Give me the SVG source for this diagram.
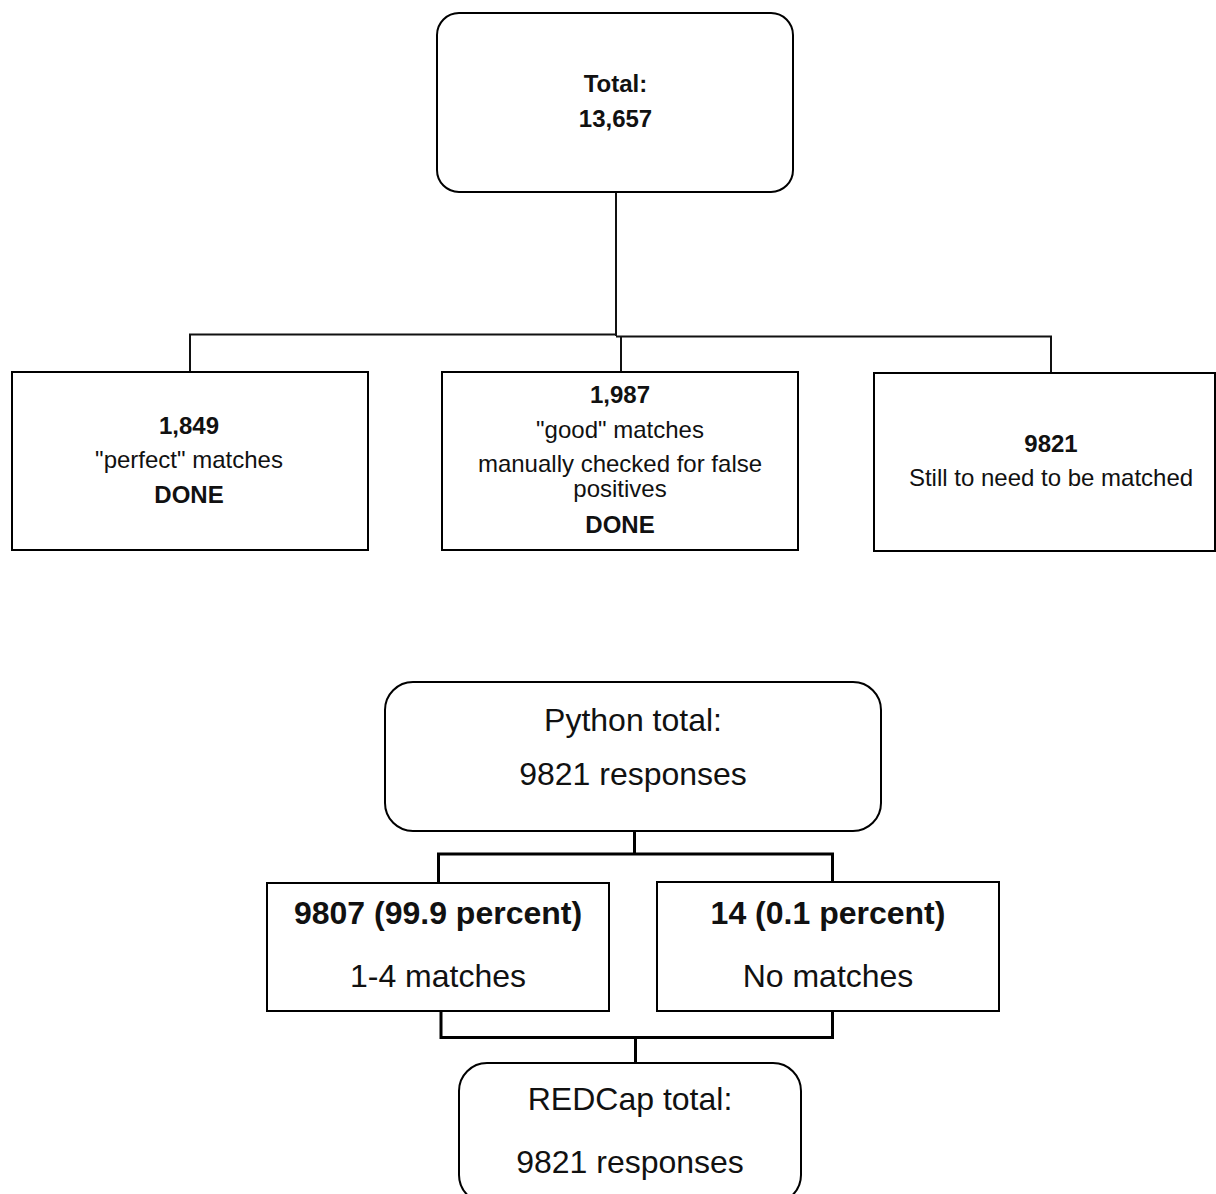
<svg xmlns="http://www.w3.org/2000/svg" width="1216" height="1194" viewBox="0 0 1216 1194">
  <style>
    .box { fill: #ffffff; stroke: #000000; stroke-width: 2; }
    .wire { fill: none; stroke: #111111; stroke-width: 2; }
    .wire-thick { fill: none; stroke: #000000; stroke-width: 3; }
    .t { font-family: "Liberation Sans", Arial, sans-serif; fill: #111111; text-anchor: middle; }
    .s { font-size: 24px; }
    .l { font-size: 32px; }
    .b { font-weight: bold; }
  </style>

  <rect width="1216" height="1194" fill="#ffffff"/>

  <!-- connectors -->
  <g id="connectors">
    <!-- upper tree -->
    <line class="wire" x1="616" y1="192" x2="616" y2="336" stroke-width="2.6"/>
    <polyline class="wire" points="190,372 190,334.5 617,334.5"/>
    <polyline class="wire" points="616,336.5 1051,336.5 1051,373"/>
    <line class="wire" x1="621" y1="336" x2="621" y2="372"/>
    <!-- lower tree -->
    <line class="wire-thick" x1="634.5" y1="831" x2="634.5" y2="854"/>
    <polyline class="wire-thick" points="438.5,883 438.5,854 832.5,854 832.5,882"/>
    <polyline class="wire-thick" points="441,1011 441,1037.5 832.5,1037.5 832.5,1011"/>
    <line class="wire-thick" x1="635.5" y1="1037.5" x2="635.5" y2="1063"/>
  </g>

  <!-- upper tree nodes -->
  <g id="node-total">
    <rect class="box" x="437" y="13" width="356" height="179" rx="22" ry="22"/>
    <text class="t s b" x="615.5" y="92">Total:</text>
    <text class="t s b" x="615.5" y="127">13,657</text>
  </g>

  <g id="node-perfect">
    <rect class="box" x="12" y="372" width="356" height="178"/>
    <text class="t s b" x="189" y="434">1,849</text>
    <text class="t s" x="189" y="468">"perfect" matches</text>
    <text class="t s b" x="189" y="503">DONE</text>
  </g>

  <g id="node-good">
    <rect class="box" x="442" y="372" width="356" height="178"/>
    <text class="t s b" x="620" y="403">1,987</text>
    <text class="t s" x="620" y="438">"good" matches</text>
    <text class="t s" x="620" y="472">manually checked for false</text>
    <text class="t s" x="620" y="497">positives</text>
    <text class="t s b" x="620" y="533">DONE</text>
  </g>

  <g id="node-remaining">
    <rect class="box" x="874" y="373" width="341" height="178"/>
    <text class="t s b" x="1051" y="452">9821</text>
    <text class="t s" x="1051" y="486">Still to need to be matched</text>
  </g>

  <!-- lower tree nodes -->
  <g id="node-python">
    <rect class="box" x="385" y="682" width="496" height="149" rx="28" ry="28"/>
    <text class="t l" x="633" y="731">Python total:</text>
    <text class="t l" x="633" y="785">9821 responses</text>
  </g>

  <g id="node-matched">
    <rect class="box" x="267" y="883" width="342" height="128"/>
    <text class="t l b" x="438" y="924">9807 (99.9 percent)</text>
    <text class="t l" x="438" y="987">1-4 matches</text>
  </g>

  <g id="node-unmatched">
    <rect class="box" x="657" y="882" width="342" height="129"/>
    <text class="t l b" x="828" y="924">14 (0.1 percent)</text>
    <text class="t l" x="828" y="987">No matches</text>
  </g>

  <g id="node-redcap">
    <rect class="box" x="459" y="1063" width="342" height="140" rx="28" ry="28"/>
    <text class="t l" x="630" y="1110">REDCap total:</text>
    <text class="t l" x="630" y="1173">9821 responses</text>
  </g>
</svg>
